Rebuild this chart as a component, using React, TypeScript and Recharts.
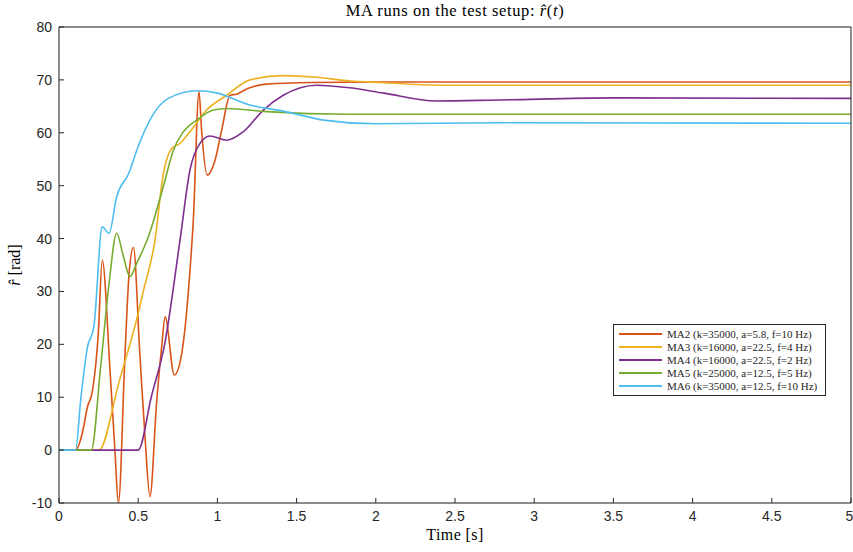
import React from 'react';
import { LineChart, Line, XAxis, YAxis, CartesianGrid } from 'recharts';

// time [s] / r-hat [rad] samples, one pair of arrays per run
const ma2T = [0, 0.105, 0.147, 0.18, 0.21, 0.248, 0.273, 0.322, 0.353, 0.375, 0.417, 0.444, 0.47, 0.51, 0.543, 0.574, 0.616, 0.648, 0.67, 0.728, 0.775, 0.827, 0.848, 0.884, 0.9, 0.936, 0.985, 1.027, 1.08, 1.12, 1.195, 1.31, 1.6, 2.0, 3.0, 5.0];
const ma2R = [0, 0, 3.2, 8.2, 11, 22, 35.9, 15.1, 0, -10, 18.3, 34, 38.3, 18.3, 2.5, -8.8, 8.9, 19.5, 25.2, 14.2, 18.3, 34, 43.5, 67.8, 60.5, 52, 54.8, 60.5, 67.1, 67.3, 68.4, 69.2, 69.5, 69.6, 69.6, 69.6];

const ma3T = [0, 0.252, 0.38, 0.505, 0.532, 0.606, 0.659, 0.71, 0.764, 0.827, 0.932, 1.059, 1.206, 1.416, 1.626, 1.837, 2.03, 2.4, 3.0, 5.0];
const ma3R = [0, 0, 13, 26.5, 30, 39.7, 52.3, 57, 58, 60.2, 64.3, 67.1, 70, 70.8, 70.5, 69.8, 69.5, 69.0, 69.0, 69.0];

const ma4T = [0, 0.5, 0.583, 0.668, 0.764, 0.827, 0.89, 0.953, 1.059, 1.164, 1.29, 1.416, 1.626, 1.837, 2.05, 2.38, 2.78, 3.5, 5.0];
const ma4R = [0, 0, 10.1, 20.2, 39.7, 53, 58, 59.4, 58.6, 60.2, 64.3, 67.1, 69, 68.5, 67.5, 66, 66.2, 66.6, 66.5];

const ma5T = [0, 0.204, 0.263, 0.316, 0.364, 0.405, 0.448, 0.49, 0.56, 0.66, 0.722, 0.785, 0.87, 0.974, 1.059, 1.31, 1.84, 5.0];
const ma5R = [0, 0, 15.8, 31.5, 41, 36.8, 32.8, 35.3, 40, 50, 56.7, 60.2, 62.4, 64.3, 64.6, 64, 63.5, 63.5];

const ma6T = [0, 0.105, 0.137, 0.18, 0.22, 0.273, 0.316, 0.364, 0.44, 0.5, 0.585, 0.69, 0.87, 1.0, 1.2, 1.416, 1.67, 2.0, 2.78, 5.0];
const ma6R = [0, 0, 9.5, 19.5, 23.3, 42.2, 41, 47.9, 52.3, 57.4, 63, 66.5, 67.95, 67.5, 65.3, 64.1, 62.4, 61.7, 61.9, 61.8];

const xTicks = [0, 0.5, 1, 1.5, 2, 2.5, 3, 3.5, 4, 4.5, 5];
const yTicks = [-10, 0, 10, 20, 30, 40, 50, 60, 70, 80];

const zip = (t: number[], r: number[]) => t.map((v, i) => ({ t: v, r: r[i] }));

const series = [
  { name: 'MA2 (k=35000, a=5.8, f=10 Hz)', color: '#D95319', data: zip(ma2T, ma2R) },
  { name: 'MA3 (k=16000, a=22.5, f=4 Hz)', color: '#EDB120', data: zip(ma3T, ma3R) },
  { name: 'MA4 (k=16000, a=22.5, f=2 Hz)', color: '#7E2F8E', data: zip(ma4T, ma4R) },
  { name: 'MA5 (k=25000, a=12.5, f=5 Hz)', color: '#77AC30', data: zip(ma5T, ma5R) },
  { name: 'MA6 (k=35000, a=12.5, f=10 Hz)', color: '#4DBEEE', data: zip(ma6T, ma6R) },
];

const serif = '"Liberation Serif", "DejaVu Serif", serif';
const sans = '"Liberation Sans", Arial, sans-serif';
const axisColor = '#262626';

const ChartLegend = () => (
  <div
    style={{
      position: 'absolute',
      left: 613,
      top: 324,
      boxSizing: 'border-box',
      width: 213,
      height: 72,
      background: '#fff',
      border: `1px solid ${axisColor}`,
      padding: '2.5px 5px',
      fontFamily: serif,
      fontSize: 11,
      lineHeight: '13px',
      color: axisColor,
      whiteSpace: 'nowrap',
    }}
  >
    {series.map((s) => (
      <div key={s.name} style={{ display: 'flex', alignItems: 'center' }}>
        <span
          style={{
            display: 'inline-block',
            width: 43,
            height: 2,
            background: s.color,
            marginRight: 5,
          }}
        />
        {s.name}
      </div>
    ))}
  </div>
);

const App: React.FC = () => {
  return (
    <div style={{ position: 'absolute', left: 0, top: 0, width: 853, height: 552, background: '#fff' }}>
      <LineChart width={853} height={552} margin={{ top: 26, right: 1, bottom: 19, left: 19 }}>
        <CartesianGrid stroke="#e3e3e3" />
        <XAxis
          xAxisId="b"
          dataKey="t"
          type="number"
          domain={[0, 5]}
          ticks={xTicks}
          allowDataOverflow
          height={30}
          stroke={axisColor}
          tickSize={-5}
          tickMargin={13}
          tick={{ fill: axisColor, fontSize: 14, fontFamily: sans }}
        />
        <XAxis
          xAxisId="top"
          orientation="top"
          dataKey="t"
          type="number"
          domain={[0, 5]}
          ticks={xTicks}
          height={1}
          stroke={axisColor}
          tickSize={-5}
          tick={() => <g />}
        />
        <YAxis
          yAxisId="l"
          type="number"
          domain={[-10, 80]}
          ticks={yTicks}
          allowDataOverflow
          width={40}
          stroke={axisColor}
          tickSize={-5}
          tickMargin={12}
          tick={{ fill: axisColor, fontSize: 14, fontFamily: sans }}
        />
        <YAxis
          yAxisId="r"
          orientation="right"
          type="number"
          domain={[-10, 80]}
          ticks={yTicks}
          width={1}
          stroke={axisColor}
          tickSize={-5}
          tick={() => <g />}
        />
        {series.map((s) => (
          <Line
            key={s.name}
            xAxisId="b"
            yAxisId="l"
            data={s.data}
            dataKey="r"
            name={s.name}
            type="monotone"
            stroke={s.color}
            strokeWidth={1.6}
            dot={false}
            activeDot={false}
            isAnimationActive={false}
          />
        ))}
      </LineChart>
      <div
        style={{
          position: 'absolute',
          top: 1,
          left: 59,
          width: 792,
          textAlign: 'center',
          fontFamily: serif,
          fontSize: 16.5,
          letterSpacing: 0.6,
          color: '#000',
        }}
      >
        MA runs on the test setup: <i>r̂</i>(<i>t</i>)
      </div>
      <div
        style={{
          position: 'absolute',
          top: 526,
          left: 59,
          width: 792,
          textAlign: 'center',
          fontFamily: serif,
          fontSize: 16,
          letterSpacing: 0.4,
          color: '#000',
        }}
      >
        Time [s]
      </div>
      <div
        style={{
          position: 'absolute',
          left: 15,
          top: 265,
          transform: 'translate(-50%, -50%) rotate(-90deg)',
          fontFamily: serif,
          fontSize: 16,
          color: '#000',
          whiteSpace: 'nowrap',
        }}
      >
        <i>r̂</i> [rad]
      </div>
      <ChartLegend />
    </div>
  );
};

export default App;
